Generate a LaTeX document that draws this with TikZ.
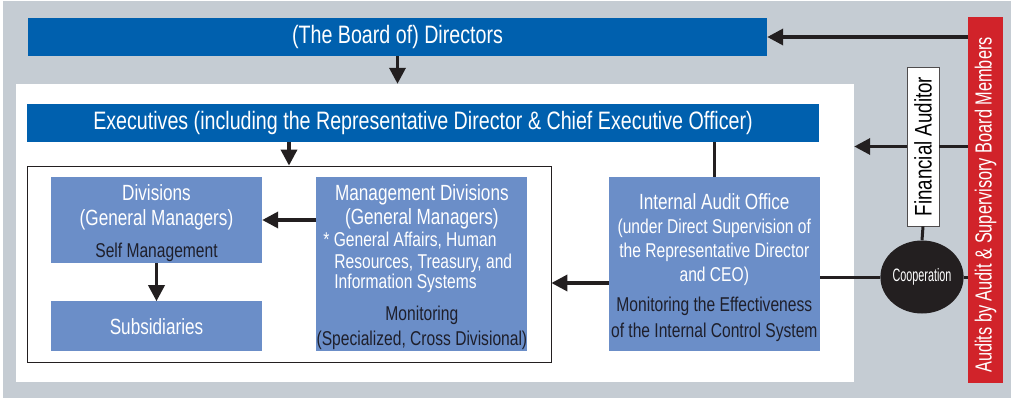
\documentclass[tikz,border=0pt]{standalone}
\usepackage{fontspec}
\setmainfont{Liberation Sans}[FakeStretch=0.78]
\newfontfamily\coopfont{Liberation Sans}[FakeStretch=0.6]
\newfontfamily\redfont{Liberation Sans}[FakeStretch=0.7]
\usepackage{graphicx}
\usepackage{xcolor}
\usetikzlibrary{
  arrows.meta,
  positioning,
  shapes.geometric}

\definecolor{panelgrey}{HTML}{C5CCD3}
\definecolor{boardblue}{HTML}{0060AE}
\definecolor{divblue}{HTML}{6B8EC8}
\definecolor{auditred}{HTML}{D1232A}
\definecolor{inkdark}{HTML}{1E1F2B}
\definecolor{linkblack}{HTML}{231F20}

\newcommand{\barsize}{\fontsize{25.2}{28}\selectfont}
\newcommand{\headsize}{\fontsize{22}{24}\selectfont}
\newcommand{\notesize}{\fontsize{20}{22}\selectfont}
\newcommand{\vertsize}{\fontsize{24}{26}\selectfont}
\newcommand{\redsize}{\redfont\fontsize{23.3}{26}\selectfont}
\newcommand{\coopsize}{\coopfont\fontsize{18}{20}\selectfont}

\tikzset{
  bluebar/.style={fill=boardblue, text=white, font=\barsize, minimum height=38pt, inner sep=0pt},
  divbox/.style={fill=divblue, text=white, font=\headsize, align=center, minimum width=211pt, inner sep=0pt},
  bigarrow/.style={-{Triangle[length=16pt,width=16pt]}, line width=3.5pt, draw=linkblack},
  link/.style={line width=3pt, draw=linkblack}
}

\begin{document}
\begin{tikzpicture}[x=1pt, y=-1pt, node distance=38pt]
\useasboundingbox (0,0) rectangle (1011,398);
\fill[panelgrey] (3,1) rectangle (1011,398);
\node[fill=white, inner sep=0pt, minimum width=838pt, minimum height=298pt] (panel) at (435,233) {};

\node[bluebar, minimum width=739pt] (board) at (397.5,37) {(The Board of) Directors};
\node[bluebar, minimum width=792pt] (exec) at (423,123) {Executives (including the Representative Director \& Chief Executive Officer)\hspace{7pt}};

%organisation below the executives
\node[draw=linkblack, line width=0.8pt, inner sep=0pt, minimum width=524pt, minimum height=196pt] (org) at (289,264) {};
\node[divbox, minimum height=86pt] (divs) at (156.5,220) {\rule{0pt}{22pt}Divisions\\[1pt]
(General Managers)\\[8pt]
\notesize\color{inkdark}Self Management};
\node[divbox, minimum height=50pt, below=of divs] (subs) {Subsidiaries};
\node[divbox, minimum height=174pt, right=54pt of divs.north east, anchor=north west] (mgmt) {\rule{0pt}{22pt}Management Divisions\\
(General Managers)\\[-2pt]
\notesize\makebox[197pt][l]{* General Affairs, Human}\\[-2pt]
\notesize\makebox[197pt][l]{\hspace{11pt}Resources, Treasury, and}\\[-4pt]
\notesize\makebox[197pt][l]{\hspace{11pt}Information Systems}\\[8pt]
\notesize\color{inkdark}Monitoring\\[1pt]
\notesize\color{inkdark}(Specialized, Cross Divisional)};
\node[divbox, minimum height=174pt, right=81pt of mgmt.north east, anchor=north west] (iao) {\rule{0pt}{24pt}Internal Audit Office\\
\notesize(under Direct Supervision of\\
\notesize the Representative Director\\
\notesize and CEO)\\[6pt]
\notesize\color{inkdark}Monitoring the Effectiveness\\[2pt]
\notesize\color{inkdark}of the Internal Control System};

%auditors on the right
\node[fill=auditred, text=white, inner sep=0pt, minimum width=35pt, minimum height=366pt, font=\redsize] (audits) at (985.5,200) {\rotatebox{90}{Audits by Audit \& Supervisory Board Members\hspace{10pt}}};
\node[fill=white, draw=linkblack!80, line width=0.8pt, inner sep=0pt, minimum width=32pt, minimum height=159pt, font=\vertsize] (finaud) at (923,146.5) {\rotatebox{90}{Financial Auditor}};
\node[ellipse, fill=linkblack, text=white, inner sep=0pt, minimum width=68pt, minimum height=73pt, font=\coopsize] (coop) at (922,277) {Cooperation};

%lines
\draw[bigarrow] (board.south) -- (board.south |- panel.north);
\draw[bigarrow] (exec.south -| org.north) -- (org.north);
\draw[link] (iao.north) -- (iao.north |- exec.south);
\draw[bigarrow] (mgmt.west |- divs.east) -- (divs.east);
\draw[bigarrow] (divs) -- (subs);
\draw[bigarrow] ([yshift=-19pt]iao.west) -- ([yshift=-19pt]org.east);

\draw[bigarrow] (audits.west |- board.east) -- (board.east);
\draw[link] (audits.west |- finaud.east) -- (finaud.east);
\draw[bigarrow] (finaud.west) -- (finaud.west -| panel.east);
\draw[link] (finaud.south) -- (coop.north);
\draw[link] (iao.east |- coop.west) -- (coop.west);
\draw[link] (coop.east) -- (coop.east -| audits.west);

\end{tikzpicture}
\end{document}
